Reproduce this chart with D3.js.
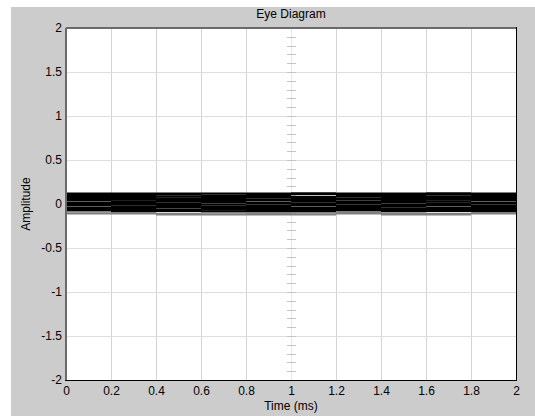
<!DOCTYPE html>
<html>
<head>
<meta charset="utf-8">
<script src="https://cdn.jsdelivr.net/npm/d3@7"></script>
<style>
  html, body { margin: 0; padding: 0; background: #ffffff; }
  svg { display: block; }
  text { font-family: "Liberation Sans", Arial, sans-serif; fill: #000; }
</style>
</head>
<body>
<svg id="chart" width="535" height="416"></svg>
<script>
// Sample instants (ms) at which each trace level is held
const sampleTimes = [0, 0.2, 0.4, 0.6, 0.8, 1.0, 1.2, 1.4, 1.6, 1.8, 2.0];

// Received-signal traces, one row per symbol window (amplitude)
const blackTraces = [
  [0.12, 0.12, 0.12, 0.12, 0.12, 0.12, 0.12, 0.12, 0.12, 0.12, 0.12],
  [0.11, 0.10, 0.09, 0.10, 0.11, 0.11, 0.10, 0.11, 0.11, 0.10, 0.10],
  [0.08, 0.07, 0.08, 0.08, 0.09, 0.08, 0.08, 0.07, 0.09, 0.08, 0.08],
  [0.06, 0.06, 0.05, 0.06, 0.07, 0.06, 0.05, 0.06, 0.06, 0.07, 0.07],
  [0.04, 0.05, 0.04, 0.03, 0.05, 0.04, 0.03, 0.05, 0.05, 0.04, 0.04],
  [0.02, 0.02, 0.03, 0.02, 0.01, 0.03, 0.02, 0.02, 0.03, 0.02, 0.02],
  [0.00, 0.01, 0.00, -0.01, 0.00, 0.01, 0.00, -0.01, 0.01, 0.00, 0.00],
  [-0.02, -0.01, -0.02, -0.03, -0.02, -0.01, -0.02, -0.02, -0.01, -0.02, -0.02],
  [-0.04, -0.04, -0.03, -0.05, -0.04, -0.04, -0.05, -0.03, -0.04, -0.04, -0.04],
  [-0.06, -0.06, -0.07, -0.06, -0.05, -0.07, -0.06, -0.06, -0.07, -0.06, -0.06],
  [-0.08, -0.08, -0.08, -0.09, -0.08, -0.08, -0.07, -0.08, -0.08, -0.08, -0.08],
  [0.10, 0.11, 0.11, 0.09, 0.10, 0.12, 0.11, 0.10, 0.12, 0.11, 0.11],
  [0.07, 0.09, 0.06, 0.07, 0.08, 0.07, 0.09, 0.08, 0.07, 0.06, 0.06],
  [0.05, 0.03, 0.06, 0.05, 0.04, 0.05, 0.06, 0.04, 0.03, 0.05, 0.05],
  [0.01, 0.03, 0.01, 0.04, 0.02, 0.00, 0.01, 0.03, 0.00, 0.01, 0.01],
  [-0.01, -0.03, -0.01, 0.00, -0.03, -0.02, -0.03, 0.00, -0.02, -0.03, -0.03],
  [-0.05, -0.05, -0.04, -0.04, -0.06, -0.05, -0.04, -0.05, -0.06, -0.05, -0.05],
  [-0.07, -0.07, -0.06, -0.08, -0.07, -0.06, -0.08, -0.07, -0.05, -0.07, -0.07]
];

// Older traces, drawn in gray along the lower edge of the band
const grayTraces = [
  [-0.11, -0.11, -0.12, -0.12, -0.11, -0.12, -0.11, -0.12, -0.11, -0.11, -0.11],
  [-0.09, -0.10, -0.11, -0.10, -0.12, -0.10, -0.09, -0.11, -0.12, -0.10, -0.10],
  [-0.07, -0.09, -0.08, -0.09, -0.10, -0.09, -0.10, -0.09, -0.08, -0.09, -0.09],
  [-0.05, -0.07, -0.06, -0.07, -0.05, -0.08, -0.07, -0.05, -0.08, -0.06, -0.06]
];

const xTickValues = [0, 0.2, 0.4, 0.6, 0.8, 1, 1.2, 1.4, 1.6, 1.8, 2];
const yTickValues = [-2, -1.5, -1, -0.5, 0, 0.5, 1, 1.5, 2];

const svg = d3.select("#chart");
const plot = { left: 66, top: 28, right: 516, bottom: 380 };

// Figure background
svg.append("rect")
  .attr("x", 11).attr("y", 7)
  .attr("width", 535 - 11).attr("height", 416 - 7)
  .attr("fill", "#cccccc");

const x = d3.scaleLinear().domain([0, 2]).range([plot.left, plot.right]);
const y = d3.scaleLinear().domain([-2, 2]).range([plot.bottom, plot.top]);

// Axes area
svg.append("rect")
  .attr("x", plot.left).attr("y", plot.top)
  .attr("width", plot.right - plot.left).attr("height", plot.bottom - plot.top)
  .attr("fill", "#ffffff");

// Grid
const grid = svg.append("g");
grid.selectAll("line.gx").data(xTickValues.slice(1, -1)).join("line")
  .attr("x1", d => Math.round(x(d)) + 0.5).attr("x2", d => Math.round(x(d)) + 0.5)
  .attr("y1", plot.top).attr("y2", plot.bottom)
  .attr("stroke", d => d === 1 ? "#e6e6e6" : "#d4d4d4").attr("stroke-width", 1);
grid.selectAll("line.gy").data(yTickValues.slice(1, -1)).join("line")
  .attr("x1", plot.left).attr("x2", plot.right)
  .attr("y1", d => Math.round(y(d)) + 0.5).attr("y2", d => Math.round(y(d)) + 0.5)
  .attr("stroke", "#dedede").attr("stroke-width", 1);

// Centre ruler: amplitude ticks every 0.1 along t = 1 ms
const rulerTicks = d3.range(-19, 20).map(i => i / 10);
grid.selectAll("line.rt").data(rulerTicks).join("line")
  .attr("x1", x(1) - 4).attr("x2", x(1) + 5)
  .attr("y1", d => Math.round(y(d)) + 0.5).attr("y2", d => Math.round(y(d)) + 0.5)
  .attr("stroke", "#c4c4c4").attr("stroke-width", 1);

// Each trace is held flat between samples: split it into horizontal segments
const toSegments = vals => vals.slice(0, -1).map((v, i) => ({ t0: sampleTimes[i], t1: sampleTimes[i + 1], v }));

function drawTraces(group, data, colour) {
  group.selectAll(null).data(data).join("g")
    .selectAll("line").data(d => toSegments(d)).join("line")
    .attr("x1", d => x(d.t0)).attr("x2", d => x(d.t1))
    .attr("y1", d => y(d.v)).attr("y2", d => y(d.v))
    .attr("stroke", colour).attr("stroke-width", 1.7);
}

const traces = svg.append("g");
drawTraces(traces.append("g"), grayTraces.slice(2), "#808080");
drawTraces(traces.append("g"), blackTraces, "#000000");
drawTraces(traces.append("g"), grayTraces.slice(0, 2), "#808080");

// Frame
svg.append("line").attr("x1", plot.left).attr("x2", plot.right)
  .attr("y1", plot.top).attr("y2", plot.top).attr("stroke", "#6a6a6a").attr("stroke-width", 2);
svg.append("line").attr("x1", plot.left).attr("x2", plot.left)
  .attr("y1", plot.top).attr("y2", plot.bottom).attr("stroke", "#6a6a6a").attr("stroke-width", 2);
svg.append("line").attr("x1", plot.right + 0.5).attr("x2", plot.right + 0.5)
  .attr("y1", plot.top - 1).attr("y2", plot.bottom + 1).attr("stroke", "#000").attr("stroke-width", 1);
svg.append("line").attr("x1", plot.left - 1).attr("x2", plot.right + 1)
  .attr("y1", plot.bottom + 0.5).attr("y2", plot.bottom + 0.5).attr("stroke", "#000").attr("stroke-width", 1);

// Tick labels use a plain hyphen for negatives
const fmt = d => d3.format("~g")(d).replace("\u2212", "-");

const xAxis = d3.axisBottom(x).tickValues(xTickValues).tickSize(0).tickPadding(0).tickFormat(fmt);
const gx = svg.append("g").attr("transform", `translate(0,${plot.bottom})`).call(xAxis);
gx.select(".domain").remove();
gx.selectAll("text").attr("y", 15).attr("dy", 0)
  .attr("font-size", 12).attr("font-family", "Liberation Sans, Arial, sans-serif").attr("fill", "#000");

const yAxis = d3.axisLeft(y).tickValues(yTickValues).tickSize(0).tickPadding(0).tickFormat(fmt);
const gy = svg.append("g").attr("transform", `translate(${plot.left - 4},0)`).call(yAxis);
gy.select(".domain").remove();
gy.selectAll("text").attr("x", 0).attr("dy", "0.32em")
  .attr("font-size", 12).attr("font-family", "Liberation Sans, Arial, sans-serif").attr("fill", "#000");

// Titles
svg.append("text").attr("x", x(1)).attr("y", 18).attr("text-anchor", "middle")
  .attr("font-size", 12).text("Eye Diagram");
svg.append("text").attr("x", x(1)).attr("y", 410).attr("text-anchor", "middle")
  .attr("font-size", 12).text("Time (ms)");
svg.append("text")
  .attr("transform", `translate(30,${y(0)}) rotate(-90)`)
  .attr("text-anchor", "middle").attr("font-size", 12).text("Amplitude");
</script>
</body>
</html>
